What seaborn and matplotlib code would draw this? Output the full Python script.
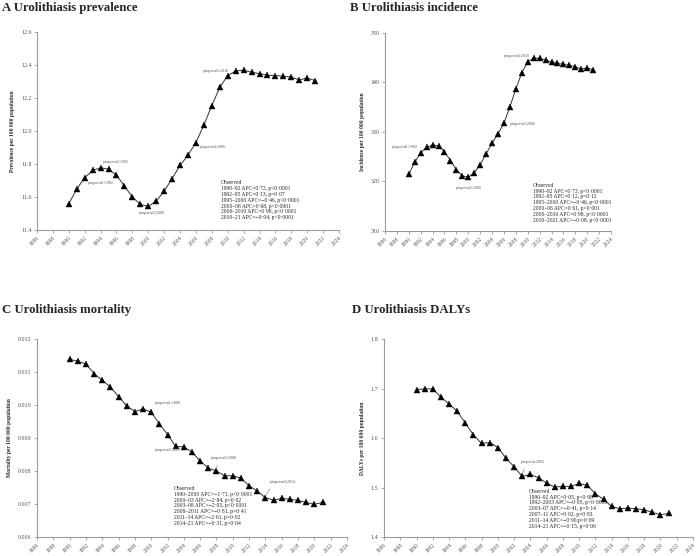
import numpy as np
import pandas as pd
import matplotlib
matplotlib.use("Agg")
import matplotlib.pyplot as plt
import seaborn as sns

years = list(range(1990, 2022))

prevalence = [11.559, 11.648, 11.717, 11.761, 11.777, 11.769, 11.733, 11.666, 11.600, 11.555,
              11.543, 11.575, 11.636, 11.711, 11.791, 11.854, 11.930, 12.037, 12.154, 12.265,
              12.336, 12.364, 12.368, 12.356, 12.348, 12.338, 12.336, 12.332, 12.326, 12.310,
              12.320, 12.306]
incidence = [321.47, 323.90, 325.78, 326.93, 327.33, 327.20, 326.05, 324.23, 322.41, 321.13,
             320.86, 321.74, 323.42, 325.58, 327.74, 329.63, 331.79, 335.09, 338.67, 341.97,
             344.13, 344.94, 344.87, 344.54, 344.13, 343.86, 343.66, 343.46, 343.19, 342.72,
             342.92, 342.58]
mortality = [0.011385, 0.011324, 0.011244, 0.010951, 0.010750, 0.010548, 0.010255, 0.009973,
             0.009802, 0.009882, 0.009782, 0.009429, 0.009106, 0.008743, 0.008733, 0.008571,
             0.008309, 0.008087, 0.007997, 0.007855, 0.007855, 0.007785, 0.007553, 0.007392,
             0.007190, 0.007119, 0.007170, 0.007140, 0.007109, 0.007049, 0.006988, 0.007049]
dalys = [1.6978, 1.6992, 1.6992, 1.6824, 1.6689, 1.6541, 1.6299, 1.6064, 1.5889, 1.5909,
         1.5808, 1.5593, 1.5418, 1.5224, 1.5264, 1.5197, 1.5089, 1.5008, 1.5022, 1.5022,
         1.5082, 1.5042, 1.4874, 1.4760, 1.4618, 1.4571, 1.4585, 1.4571, 1.4551, 1.4497,
         1.4450, 1.4477]

titles = ["A Urolithiasis prevalence", "B Urolithiasis incidence",
          "C Urolithiasis mortality", "D Urolithiasis DALYs"]
ylabels = ["Prevalence per 100 000 population", "Incidence per 100 000 population",
           "Mortality per 100 000 population", "DALYs per 100 000 population"]

x_ticks = list(range(1986, 2025, 2))
y_ticks_a = [11.4, 11.6, 11.8, 12.0, 12.2, 12.4, 12.6]
y_ticks_b = [310, 320, 330, 340, 350]
y_ticks_c = [0.006, 0.007, 0.008, 0.009, 0.010, 0.011, 0.012]
y_ticks_d = [1.4, 1.5, 1.6, 1.7, 1.8]

legend_a = ["Observed", "1990\u201392 APC=0\u00b772, p<0\u00b70001", "1992\u201395 APC=0\u00b713, p=0\u00b707",
            "1995\u20132000 APC=\u22120\u00b746, p<0\u00b70001", "2000\u201306 APC=0\u00b768, p<0\u00b70001",
            "2006\u20132010 APC=0\u00b798, p<0\u00b70001", "2010\u201321 APC=\u22120\u00b704, p<0\u00b70001"]
legend_b = ["Observed", "1990\u201392 APC=0\u00b773, p<0\u00b70001", "1992\u201395 APC=0\u00b712, p=0\u00b712",
            "1995\u20132000 APC=\u22120\u00b746, p<0\u00b70001", "2000\u201306 APC=0\u00b761, p=0\u00b7001",
            "2006\u20132010 APC=0\u00b798, p<0\u00b70001", "2010\u20132021 APC=\u22120\u00b708, p<0\u00b70001"]
legend_c = ["Observed", "1990\u20132000 APC=\u22121\u00b771, p<0\u00b70001", "2000\u201303 APC=\u22122\u00b784, p=0\u00b702",
            "2003\u201308 APC=\u22122\u00b705, p<0\u00b70001", "2008\u20132011 APC=\u22120\u00b781, p=0\u00b741",
            "2011\u201314 APC=\u22122\u00b761, p=0\u00b702", "2014\u201321 APC=\u22120\u00b731, p=0\u00b704"]
legend_d = ["Observed", "1990\u201392 APC=0\u00b705, p=0\u00b798", "1992\u20132003 APC=\u22120\u00b795, p<0\u00b70001",
            "2003\u201307 APC=\u22120\u00b741, p=0\u00b714", "2007\u201311 APC=0\u00b702, p=0\u00b793",
            "2011\u201314 APC=\u22120\u00b790,p=0\u00b709", "2014\u201321 APC=\u22120\u00b715, p=0\u00b706"]

# joinpoint labels: (year, label, dx pt, dy pt, leader)
jp_a = [(1992, "joinpoint1:1992", 11.3, -4.1, False), (1995, "joinpoint2:1995", 5.0, 4.8, False),
        (2000, "joinpoint3:2000", 1.9, -5.0, False), (2006, "joinpoint4:2006", 11.5, -3.1, False),
        (2010, "joinpoint5:2010", -9.1, 3.1, False)]
jp_b = [(1992, "joinpoint1:1992", -12.2, 4.6, False), (2000, "joinpoint2:2000", 0.0, -7.4, False),
        (2006, "joinpoint3:2006", 13.2, -0.5, False), (2010, "joinpoint4:2010", -8.6, 4.1, False)]
jp_c = [(2000, "joinpoint1:2000", 11.5, 6.5, False), (2003, "joinpoint2:2003", -6.2, -2.6, False),
        (2008, "joinpoint3:2008", 4.8, 9.6, True), (2014, "joinpoint4:2014", 11.8, 11.3, True)]
jp_d = [(2003, "joinpoint:2003", 7.2, 10.6, True)]

sns.set_style("ticks")
plt.rcParams["font.family"] = ["Liberation Serif", "DejaVu Serif"]

fig = plt.figure(figsize=(6.97, 5.56), dpi=100)

W, H = 697.0, 556.0
def rect(l, r, t, b):
    return [l / W, 1 - b / H, (r - l) / W, (b - t) / H]

panels = [
    (rect(37, 339, 32, 230), prevalence, y_ticks_a, legend_a, jp_a, (0.609, 0.250), "{:.1f}", (2, 8)),
    (rect(385, 611, 33, 231), incidence, y_ticks_b, legend_b, jp_b, (0.655, 0.243), "{:.0f}", (350, 8)),
    (rect(37, 347, 339, 537), mortality, y_ticks_c, legend_c, jp_c, (0.442, 0.258), "{:.3f}", (2, 310)),
    (rect(384, 693, 339, 537), dalys, y_ticks_d, legend_d, jp_d, (0.469, 0.243), "{:.1f}", (352, 310)),
]

spine_col = "#9a9a9a"
for i, (r, vals, yt, leg, jps, legpos, fmt, tpos) in enumerate(panels):
    ax = fig.add_axes(r)
    df = pd.DataFrame({"year": years, "value": vals})
    sns.lineplot(data=df, x="year", y="value", ax=ax, color="#333333", lw=0.7,
                 marker="^", markersize=5.0, mfc="black", mec="black", mew=0.3)
    ax.set_xlim(1986, 2024)
    ax.set_ylim(yt[0], yt[-1])
    ax.set_xticks(x_ticks)
    ax.set_xticklabels([str(t) for t in x_ticks], rotation=45, ha="right",
                       rotation_mode="anchor", fontsize=4.0, color="#555555")
    ax.set_yticks(yt)
    ax.set_yticklabels([fmt.format(t) for t in yt], fontsize=4.3, color="#555555")
    ax.tick_params(axis="both", length=2.5, width=0.6, color=spine_col, pad=1.5)
    for s in ["top", "right"]:
        ax.spines[s].set_visible(False)
    for s in ["left", "bottom"]:
        ax.spines[s].set_color(spine_col)
        ax.spines[s].set_linewidth(0.8)
    ax.set_xlabel("")
    ax.set_ylabel(ylabels[i], fontsize=4.0, fontweight="bold", labelpad=4)
    ax.text(legpos[0], legpos[1], "\n".join(leg), transform=ax.transAxes,
            fontsize=4.0, va="top", ha="left", linespacing=1.2, color="#222222")
    for (yr, lab, dx, dy, leader) in jps:
        yv = vals[years.index(yr)]
        if leader:
            ax.annotate(lab, xy=(yr, yv), xytext=(dx, dy), textcoords="offset points",
                        fontsize=3.0, color="#555555", ha="center", va="center",
                        arrowprops=dict(arrowstyle="-", color="#777777", lw=0.4,
                                        connectionstyle="arc3,rad=0.3",
                                        shrinkA=1.5, shrinkB=2))
        else:
            ax.annotate(lab, xy=(yr, yv), xytext=(dx, dy), textcoords="offset points",
                        fontsize=3.0, color="#555555", ha="center", va="center")
    fig.text(tpos[0] / W, 1 - tpos[1] / H, titles[i], fontsize=9.2, fontweight="bold",
             ha="left", va="center")

fig.savefig("out.png", dpi=100)
